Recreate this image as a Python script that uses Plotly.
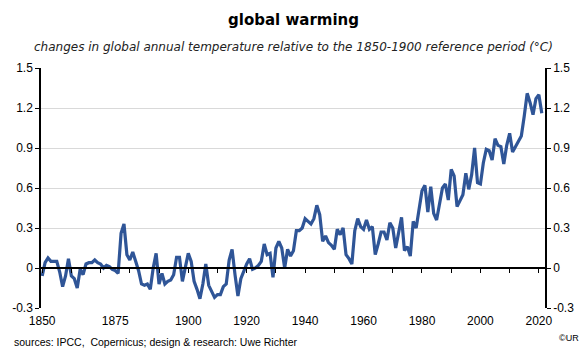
import plotly.graph_objects as go

years = list(range(1850, 2022))
anomaly = [
    -0.06, 0.04, 0.075, 0.05, 0.05, 0.05, -0.03, -0.14, -0.06, 0.07,   # 1850-1859
    -0.06, -0.08, -0.15, -0.01, -0.05, 0.03, 0.04, 0.04, 0.06, 0.04,   # 1860-1869
    0.03, 0.00, 0.02, 0.01, -0.01, -0.02, -0.04, 0.26, 0.33, 0.10,     # 1870-1879
    0.06, 0.12, 0.05, -0.02, -0.12, -0.13, -0.12, -0.16, 0.00, 0.11,   # 1880-1889
    -0.12, -0.04, -0.12, -0.10, -0.09, -0.05, 0.08, 0.08, -0.10, 0.02, # 1890-1899
    0.11, 0.05, -0.10, -0.16, -0.23, -0.12, 0.03, -0.13, -0.17, -0.22, # 1900-1909
    -0.20, -0.20, -0.14, -0.12, 0.06, 0.14, -0.05, -0.21, -0.08, -0.02,# 1910-1919
    0.03, 0.07, -0.01, 0.00, 0.02, 0.05, 0.18, 0.10, 0.11, -0.07,      # 1920-1929
    0.15, 0.20, 0.15, 0.00, 0.14, 0.09, 0.13, 0.28, 0.28, 0.30,        # 1930-1939
    0.37, 0.35, 0.33, 0.37, 0.47, 0.40, 0.20, 0.24, 0.19, 0.17,        # 1940-1949
    0.14, 0.29, 0.25, 0.30, 0.10, 0.07, 0.03, 0.28, 0.37, 0.31,        # 1950-1959
    0.29, 0.36, 0.29, 0.31, 0.10, 0.18, 0.27, 0.27, 0.21, 0.34,        # 1960-1969
    0.30, 0.15, 0.26, 0.38, 0.13, 0.16, 0.09, 0.35, 0.30, 0.43,        # 1970-1979
    0.58, 0.62, 0.42, 0.61, 0.41, 0.36, 0.47, 0.60, 0.63, 0.51,        # 1980-1989
    0.74, 0.69, 0.46, 0.51, 0.55, 0.71, 0.59, 0.70, 0.90, 0.64,        # 1990-1999
    0.63, 0.79, 0.89, 0.88, 0.81, 0.97, 0.92, 0.91, 0.78, 0.92,        # 2000-2009
    1.01, 0.87, 0.91, 0.95, 0.99, 1.14, 1.31, 1.24, 1.15, 1.27,        # 2010-2019
    1.30, 1.16,                                                        # 2020-2021
]

x_label_vals = [1850, 1875, 1900, 1920, 1940, 1960, 1980, 2000, 2020]
x_tick_vals = list(range(1850, 2030, 10))
y_tick_vals = [-0.3, 0, 0.3, 0.6, 0.9, 1.2, 1.5]
y_tick_text = ["-0.3", "0", "0.3", "0.6", "0.9", "1.2", "1.5"]

title_text = "global warming"
subtitle_text = "changes in global annual temperature relative to the 1850-1900 reference period (°C)"
source_text = "sources: IPCC,  Copernicus; design & research: Uwe Richter"
copyright_text = "©UR"

line_color = "#2F5597"
xr = [1849.6, 2022.1]
yr = [-0.3, 1.5]

fig = go.Figure()
fig.add_trace(go.Scatter(x=years, y=anomaly, mode="lines",
                         line=dict(color=line_color, width=3.2),
                         xaxis="x", yaxis="y", showlegend=False))
# invisible trace to make the secondary axes render
fig.add_trace(go.Scatter(x=years, y=anomaly, mode="lines",
                         line=dict(color="rgba(0,0,0,0)", width=0),
                         xaxis="x2", yaxis="y2", showlegend=False, hoverinfo="skip"))

axis_font = dict(family="Liberation Sans, Arial, sans-serif", size=12, color="black")

fig.update_layout(
    width=586, height=352,
    margin=dict(l=38, r=40, t=68, b=44),
    paper_bgcolor="white", plot_bgcolor="white",
    xaxis=dict(range=xr, tickvals=x_label_vals, ticktext=[str(v) for v in x_label_vals],
               ticks="", showline=False, showgrid=False, zeroline=False,
               tickfont=axis_font, ticklabelstandoff=4),
    xaxis2=dict(range=xr, overlaying="x", anchor="free", position=(0 - yr[0]) / (yr[1] - yr[0]),
                tickvals=x_tick_vals, showticklabels=False, ticks="outside", ticklen=4,
                tickcolor="black", tickwidth=1, showline=True, linecolor="black", linewidth=1.5,
                showgrid=False, zeroline=False),
    yaxis=dict(range=yr, tickvals=y_tick_vals, ticktext=y_tick_text, ticks="outside",
               ticklen=4, tickcolor="black", showline=True, linecolor="black", linewidth=1.5,
               showgrid=True, gridcolor="#D9D9D9", gridwidth=1, zeroline=False,
               tickfont=axis_font),
    yaxis2=dict(range=yr, overlaying="y", side="right", anchor="x", tickvals=y_tick_vals,
                ticktext=y_tick_text, ticks="outside", ticklen=4, tickcolor="black",
                showline=True, linecolor="black", linewidth=1.5, showgrid=False,
                zeroline=False, tickfont=axis_font),
    annotations=[
        dict(text="<b>" + title_text + "</b>", xref="paper", yref="paper", x=0.5, y=1 + 48 / 240,
             xanchor="center", yanchor="middle", showarrow=False,
             font=dict(family="DejaVu Sans, Verdana, sans-serif", size=15, color="black")),
        dict(text="<i>" + subtitle_text + "</i>", xref="paper", yref="paper", x=(293 - 38) / 508,
             y=1 + 21 / 240, xanchor="center", yanchor="middle", showarrow=False,
             font=dict(family="DejaVu Sans, Verdana, sans-serif", size=12, color="#222")),
        dict(text=source_text, xref="paper", yref="paper", x=(9 - 38) / 508, y=-(342 - 308) / 240,
             xanchor="left", yanchor="middle", showarrow=False,
             font=dict(family="Liberation Sans, Arial, sans-serif", size=10.5, color="black")),
        dict(text=copyright_text, xref="paper", yref="paper", x=(582 - 38) / 508, y=-(338 - 308) / 240,
             xanchor="right", yanchor="middle", showarrow=False,
             font=dict(family="Liberation Sans, Arial, sans-serif", size=9, color="black")),
    ],
)

fig.write_html("out.html")
